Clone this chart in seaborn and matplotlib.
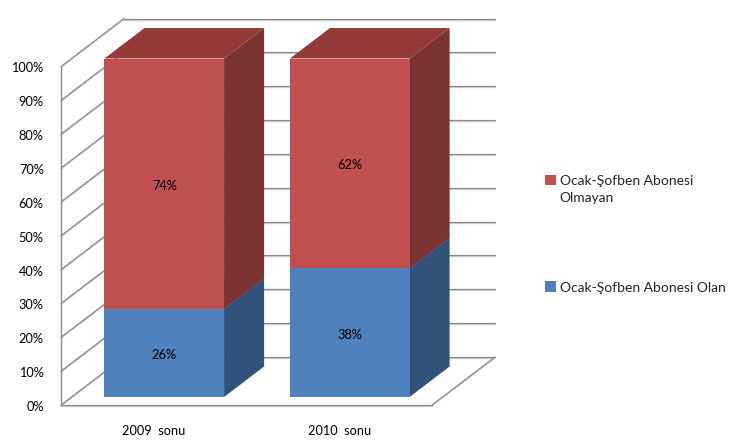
#plot.py

import matplotlib
matplotlib.use("Agg")
import matplotlib.pyplot as plt
import matplotlib.transforms as mtrans
from matplotlib.patches import Polygon, Patch
from matplotlib.transforms import IdentityTransform
import pandas as pd
import seaborn as sns

categories = ["2009  sonu", "2010  sonu"]
olan_values = [26, 38]
olmayan_values = [74, 62]
y_ticks = [0, 10, 20, 30, 40, 50, 60, 70, 80, 90, 100]
y_tick_labels = [f"{t}%" for t in y_ticks]
olan_label = "Ocak-Şofben Abonesi Olan"
olmayan_label = "Ocak-Şofben Abonesi\nOlmayan"

W, H = 745, 442
SLOPE = 63 / 48
GRID = "#8c8c8c"
SHADOW = "#d0d0d0"
BLUE, BLUE_SIDE, BLUE_TOP = "#4f81bd", "#31527a", "#3a6190"
RED, RED_SIDE, RED_TOP = "#c0504d", "#7a3331", "#943b39"

# depth of each plane in pixels, measured from the plane of the bar fronts
FRONT_WALL = -8
BAR_BACK = 30.5
BACK_WALL = 40


def depth_shift(depth):
    return mtrans.Affine2D().translate(depth * SLOPE, depth)


def wall_point(ax, x, y, depth):
    return (ax.transData + depth_shift(depth)).transform((x, y))


def draw_line(ax, p0, p1, color=GRID, zorder=1):
    # thin light line underneath gives the soft edge of the gridlines
    ax.plot([p0[0], p1[0]], [p0[1] - 1, p1[1] - 1], color=SHADOW, lw=1,
            transform=IdentityTransform(), clip_on=False, zorder=zorder)
    ax.plot([p0[0], p1[0]], [p0[1], p1[1]], color=color, lw=0.9,
            transform=IdentityTransform(), clip_on=False, zorder=zorder + 0.1)


def draw_walls(ax):
    x0, x1 = ax.get_xlim()
    for t in y_ticks:
        front = wall_point(ax, x0, t, FRONT_WALL)
        back = wall_point(ax, x0, t, BACK_WALL)
        back_right = wall_point(ax, x1, t, BACK_WALL)
        draw_line(ax, front, back)
        draw_line(ax, back, back_right)
    draw_line(ax, wall_point(ax, x0, 0, FRONT_WALL), wall_point(ax, x0, 100, FRONT_WALL))
    draw_line(ax, wall_point(ax, x0, 0, FRONT_WALL), wall_point(ax, x1, 0, FRONT_WALL))
    draw_line(ax, wall_point(ax, x1, 0, FRONT_WALL), wall_point(ax, x1, 0, BACK_WALL))


def draw_bar_depth(ax, bar, side_color, top_color):
    x, y = bar.get_xy()
    w, h = bar.get_width(), bar.get_height()
    right_low = wall_point(ax, x + w, y, 0)
    right_high = wall_point(ax, x + w, y + h, 0)
    left_high = wall_point(ax, x, y + h, 0)
    back_low = wall_point(ax, x + w, y, BAR_BACK)
    back_high = wall_point(ax, x + w, y + h, BAR_BACK)
    back_left = wall_point(ax, x, y + h, BAR_BACK)
    ax.add_patch(Polygon([right_low, right_high, back_high, back_low], closed=True,
                         facecolor=side_color, edgecolor="none",
                         transform=IdentityTransform(), clip_on=False, zorder=3))
    ax.add_patch(Polygon([left_high, right_high, back_high, back_left], closed=True,
                         facecolor=top_color, edgecolor="none",
                         transform=IdentityTransform(), clip_on=False, zorder=3))


def main():
    sns.set_theme(style="white")
    plt.rcParams["font.family"] = ["Lato", "DejaVu Sans"]

    df = pd.DataFrame({"donem": categories, "olan": olan_values, "olmayan": olmayan_values})

    fig = plt.figure(figsize=(W / 100, H / 100), dpi=100)
    ax = fig.add_axes([71.5 / W, (H - 397) / H, 371 / W, 338.5 / H])
    ax.patch.set_visible(False)

    sns.barplot(data=df, x="donem", y="olan", color=BLUE, saturation=1, width=0.645,
                ax=ax, zorder=4, linewidth=0)
    sns.barplot(data=df, x="donem", y="olmayan", color=RED, saturation=1, width=0.645,
                bottom=df["olan"], ax=ax, zorder=4, linewidth=0)

    ax.set_xlim(-0.5, 1.5)
    ax.set_ylim(0, 100)
    ax.set_xlabel("")
    ax.set_ylabel("")
    ax.set_yticks(y_ticks)
    ax.set_yticklabels(y_tick_labels)
    sns.despine(ax=ax, left=True, bottom=True)
    ax.tick_params(axis="both", length=0, labelsize=9.2, labelcolor="black")
    ax.tick_params(axis="y", pad=12.5)
    ax.tick_params(axis="x", pad=20)

    # tick labels sit on the front wall, not on the bar plane
    y_shift = mtrans.Affine2D().translate(FRONT_WALL * SLOPE, FRONT_WALL - 1)
    for label in ax.get_yticklabels():
        label.set_transform(label.get_transform() + y_shift)
    x_shift = mtrans.Affine2D().translate(FRONT_WALL * SLOPE, 0)
    for label in ax.get_xticklabels():
        label.set_transform(label.get_transform() + x_shift)

    draw_walls(ax)

    blue_bars = ax.containers[0]
    red_bars = ax.containers[1]
    for bar in blue_bars:
        draw_bar_depth(ax, bar, BLUE_SIDE, BLUE_TOP)
    for bar in red_bars:
        draw_bar_depth(ax, bar, RED_SIDE, RED_TOP)

    for bars in (blue_bars, red_bars):
        for txt in ax.bar_label(bars, fmt="%.0f%%", label_type="center", fontsize=9.2, color="black"):
            txt.set_zorder(6)
            txt.xyann = (0, -1.4)

    handles = [Patch(facecolor=RED, edgecolor="none"), Patch(facecolor=BLUE, edgecolor="none")]
    leg = fig.legend(handles, [olmayan_label, olan_label], loc="upper left",
                     bbox_to_anchor=(541 / W, (H - 171) / H), frameon=False, fontsize=10,
                     handlelength=0.8, handleheight=0.8, handletextpad=0.25,
                     labelspacing=5.6, borderpad=0.3, borderaxespad=0)
    for txt in leg.get_texts():
        txt.set_linespacing(1.45)
    leg.legend_handles[0].set_y(leg.legend_handles[0].get_y() + 7)

    fig.savefig("out.png", dpi=100)
    plt.close(fig)


if __name__ == "__main__":
    main()
